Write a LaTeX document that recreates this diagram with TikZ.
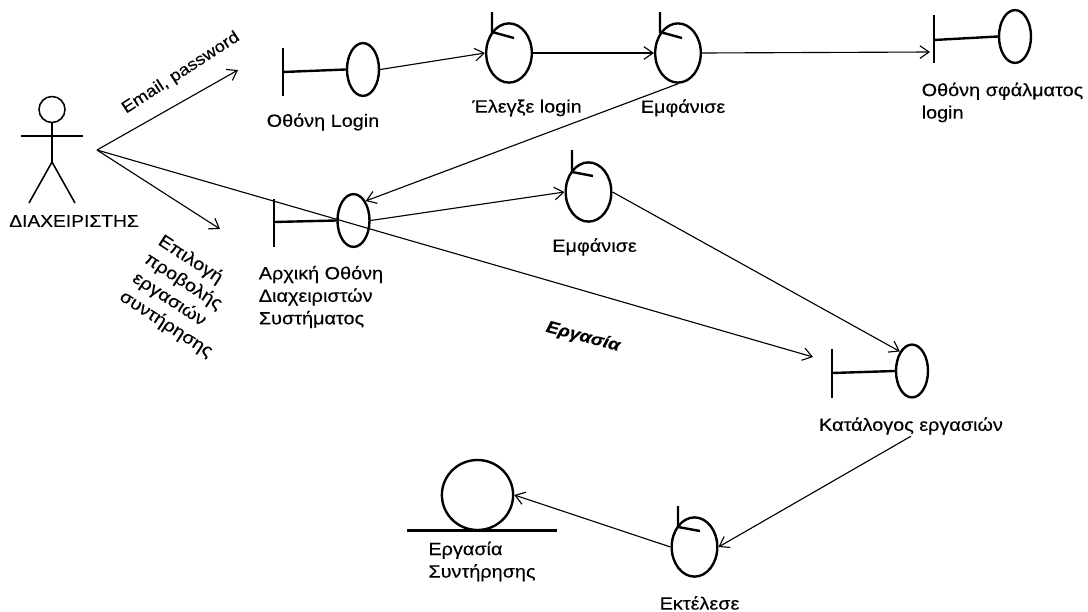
\documentclass[tikz,border=0pt]{standalone}
\usepackage{fontspec}
\setmainfont[FakeStretch=1.12,FakeBold=0.25]{Liberation Sans}
\usetikzlibrary{shapes.geometric,arrows.meta}
\tikzset{
  >={Straight Barb[length=6.5pt,width=9pt]},
  conn/.style={->, line width=0.8pt},
  heavy/.style={line width=1.7pt},
  bdry/.style={draw, ellipse, heavy, inner sep=0pt, minimum width=0.8cm, minimum height=1.32cm},
  ctrl/.style={draw, ellipse, heavy, inner sep=0pt, minimum width=1.14cm, minimum height=1.48cm},
  lbl/.style={font=\fontsize{12.6}{16}\selectfont, inner sep=1pt, align=left},
}
\begin{document}
\begin{tikzpicture}[x=0.025cm, y=-0.025cm]
\useasboundingbox (0,0) rectangle (1088,612);

%actor
\node[draw, circle, line width=1.1pt, inner sep=0pt, minimum size=0.65cm] (head) at (52,109.5) {};
\coordinate (hip) at (52,162);
\draw[line width=1.1pt] (head.south)--(hip);
\draw[line width=1.1pt] (21,136)--(83,136);
\draw[line width=1.1pt] (29,203)--(hip)--(75,203);
\node[lbl, font=\fontsize{12.2}{16}\selectfont] (actlabel) at (74,221) {ΔΙΑΧΕΙΡΙΣΤΗΣ};
\coordinate (act) at (97,150);

%boundaries
\node[bdry] (b1) at (363,69.5) {};
\coordinate (b1bar) at (283,72);
\draw[heavy] (283,48)--(283,96);
\draw[heavy] (b1bar)--(b1.west);
\node[lbl] (b1label) at (323,122) {Οθόνη Login};

\node[bdry] (b2) at (353.5,220.5) {};
\coordinate (b2bar) at (274,222);
\draw[heavy] (274,199)--(274,247);
\draw[heavy] (b2bar)--(b2.west);
\node[lbl] (b2label) at (321,297) {Αρχική Οθόνη\\Διαχειριστών\\Συστήματος};

\node[bdry] (b3) at (1015,36.5) {};
\coordinate (b3bar) at (934,40);
\draw[heavy] (934,15)--(934,63);
\draw[heavy] (b3bar)--(b3.west);
\node[lbl, anchor=west] (b3label) at (920,102.5) {Οθόνη σφάλματος\\login};

\node[bdry] (b4) at (912,371) {};
\coordinate (b4bar) at (832,373);
\draw[heavy] (832,349)--(832,398);
\draw[heavy] (b4bar)--(b4.west);
\node[lbl] (b4label) at (911,426) {Κατάλογος εργασιών};

%controllers
\node[ctrl] (c1) at (509,53) {};
\draw[heavy] (492,12)--(492,32)--(514,38);
\node[lbl] (c1label) at (527,108) {Έλεγξε login};

\node[ctrl] (c2) at (678,53) {};
\draw[heavy] (660,12)--(660,32)--(682,38);
\node[lbl] (c2label) at (683,108) {Εμφάνισε};

\node[ctrl] (c3) at (588.5,192) {};
\draw[heavy] (572,150)--(572,172)--(593,176);
\node[lbl] (c3label) at (594.5,247) {Εμφάνισε};

\node[ctrl] (c4) at (694.5,547) {};
\draw[heavy] (678,506)--(678,527)--(700,531);
\node[lbl] (c4label) at (699.5,603) {Εκτέλεσε};

%entity
\node[draw, ellipse, heavy, inner sep=0pt, minimum width=1.78cm, minimum height=1.75cm] (e1) at (477.5,495) {};
\draw[heavy] (407,530.5)--(557,530.5);
\node[lbl] (e1label) at (482,561.5) {Εργασία\\Συντήρησης};

%messages
\coordinate (m1) at (238,70);
\coordinate (m2) at (220,229);
\coordinate (m3) at (813,357);
\coordinate (m4) at (930,52);
\draw[conn] (act)--(m1);
\draw[conn] (act)--(m2);
\draw[conn] (act)--(m3);
\draw[conn] (b1.east)--(c1.west);
\draw[conn] (c1.east)--(c2.west);
\draw[conn] (c2.east)--(m4);
\draw[conn] (c2.south)--(b2.north east);
\draw[conn] (b2.east)--(c3.west);
\draw[conn] (c3.east)--(b4.north west);
\draw[conn] (b4label.south)--(c4.east);
\draw[conn] (c4.west)--(e1.east);

\node[lbl, font=\fontsize{11.8}{16}\selectfont, rotate=33] (m1label) at (181,73) {Email, password};
\node[lbl, align=center, rotate=-33] (m2label) at (172,288) {Επιλογή\\\hspace*{8.6pt}προβολής\\\hspace*{5.7pt}εργασιών\\\hspace*{21pt}συντήρησης};
\node[lbl, font=\fontsize{12}{14}\selectfont\bfseries\itshape, rotate=-15] (m3label) at (583,337) {Εργασία};

\end{tikzpicture}
\end{document}
